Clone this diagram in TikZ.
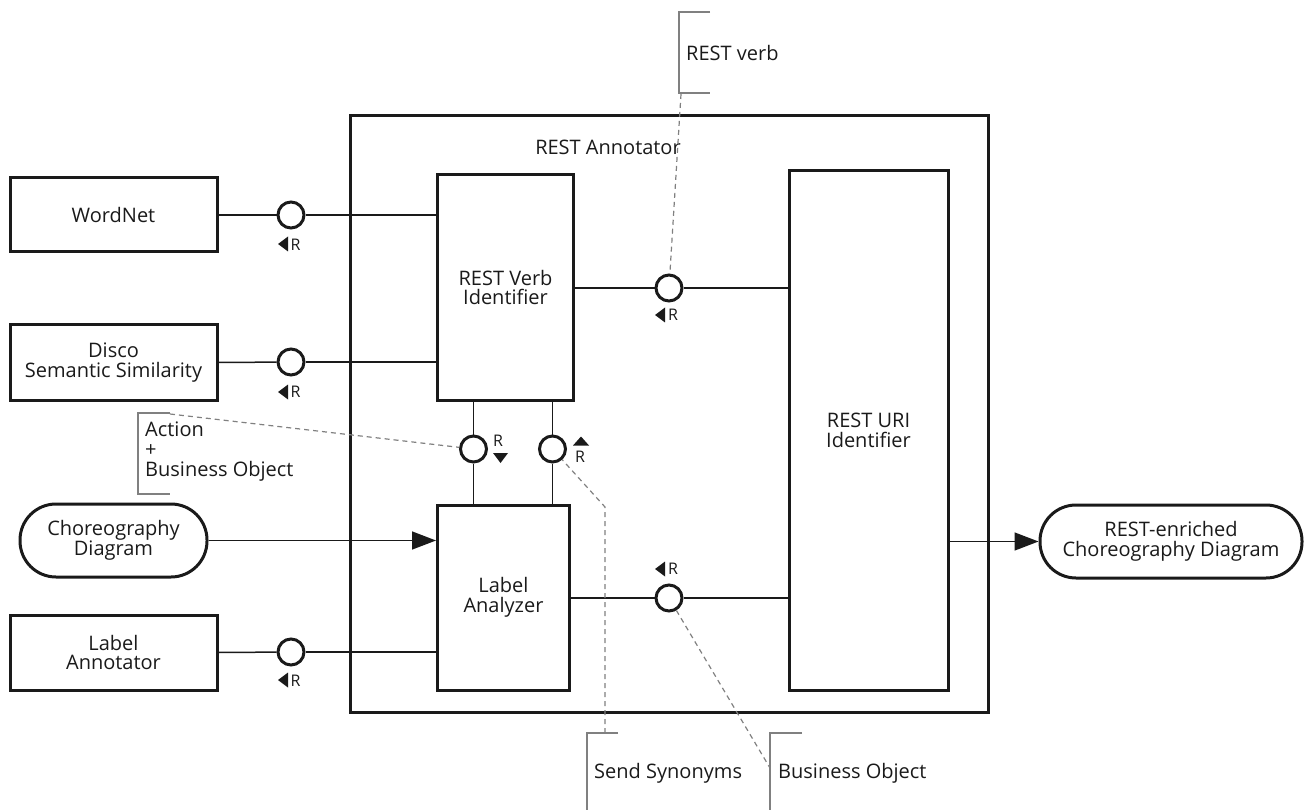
\documentclass[tikz,border=0pt]{standalone}
\usepackage{fontspec}
\setmainfont{Open Sans}
\usetikzlibrary{arrows.meta}
\definecolor{ink}{HTML}{1A1A1A}
\definecolor{notegray}{HTML}{808080}
\begin{document}
\begin{tikzpicture}[x=1pt,y=-1pt,
  every node/.style={text=ink},
  box/.style={draw=ink, line width=3pt, align=center, inner sep=0pt,
    font=\fontsize{20}{19.5}\selectfont},
  term/.style={box, rounded corners=36pt},
  iface/.style={circle, draw=ink, line width=3pt, minimum size=26pt, inner sep=0pt, fill=white},
  conn/.style={draw=ink, line width=1.5pt},
  flow/.style={conn, -{Triangle[length=24pt,width=18pt]}},
  bracket/.style={draw=notegray, line width=1.3pt},
  dashline/.style={draw=notegray, line width=1.2pt, dash pattern=on 5pt off 4pt},
  lbl/.style={font=\fontsize{20}{20}\selectfont, inner sep=0pt, align=left},
  rlbl/.style={font=\fontsize{16}{16}\selectfont, inner sep=0pt},
  tri/.style={fill=ink}
]
\useasboundingbox (0,0) rectangle (1312,810);

% outer component
\node[box, minimum width=638pt, minimum height=596pt] (outer) at (669,414) {};
\node[lbl] (outerlbl) at (608,147) {REST Annotator};

% boxes
\node[box, minimum width=207pt, minimum height=74pt] (wordnet) at (113.5,215) {WordNet};
\node[box, minimum width=207pt, minimum height=75pt] (disco) at (113.5,362.5) {Disco\\Semantic Similarity};
\node[box, minimum width=207pt, minimum height=75pt] (labann) at (113.5,652.5) {Label\\Annotator};
\node[term, minimum width=187pt, minimum height=73pt] (choreo) at (113.5,540.5) {Choreography\\Diagram};
\node[box, minimum width=136pt, minimum height=225pt] (verb) at (505.5,287.5) {REST Verb\\Identifier};
\node[box, minimum width=132pt, minimum height=185pt] (analyzer) at (503.5,597.5) {Label\\Analyzer};
\node[box, minimum width=159pt, minimum height=519pt] (uri) at (868.5,430.5) {REST URI\\Identifier};
\node[term, minimum width=262pt, minimum height=73pt] (enriched) at (1171,541.5) {REST-enriched\\Choreography Diagram};

% interfaces
\node[iface] (c1) at (291,215) {};
\node[iface] (c2) at (291,362) {};
\node[iface] (c3) at (291,652) {};
\node[iface] (c4) at (669,288) {};
\node[iface] (c5) at (669,598) {};
\node[iface] (c6) at (473.5,449) {};
\node[iface] (c7) at (552.5,449) {};

% connectors
\draw[conn] (wordnet.east) -- (c1);
\draw[conn] (c1) -- (verb.west |- c1);
\draw[conn] (disco.east) -- (c2);
\draw[conn] (c2) -- (verb.west |- c2);
\draw[conn] (labann.east) -- (c3);
\draw[conn] (c3) -- (analyzer.west |- c3);
\draw[conn] (verb.east |- c4) -- (c4);
\draw[conn] (c4) -- (uri.west |- c4);
\draw[conn] (analyzer.east |- c5) -- (c5);
\draw[conn] (c5) -- (uri.west |- c5);
\draw[conn] (verb.south -| c6) -- (c6);
\draw[conn] (c6) -- (analyzer.north -| c6);
\draw[conn] (verb.south -| c7) -- (c7);
\draw[conn] (c7) -- (analyzer.north -| c7);
\draw[flow] (choreo.east) -- (analyzer.west |- choreo.east);
\draw[flow] (uri.east |- enriched.west) -- (enriched.west);

% R markers
\fill[tri] (278,244) -- (288,236.5) -- (288,251.5) -- cycle;
\node[rlbl] (r1) at (295.5,245) {R};
\fill[tri] (278,392) -- (288,384.5) -- (288,399.5) -- cycle;
\node[rlbl] (r2) at (295.5,392) {R};
\fill[tri] (278,680) -- (288,672.5) -- (288,687.5) -- cycle;
\node[rlbl] (r3) at (295.5,681) {R};
\fill[tri] (655,315) -- (665,307.5) -- (665,322.5) -- cycle;
\node[rlbl] (r4) at (673,315) {R};
\fill[tri] (655,569) -- (665,561.5) -- (665,576.5) -- cycle;
\node[rlbl] (r5) at (673,569) {R};
\node[rlbl] (r6) at (498,441) {R};
\fill[tri] (493,453) -- (508,453) -- (500.5,463) -- cycle;
\fill[tri] (573,445.5) -- (589,445.5) -- (581,436.5) -- cycle;
\node[rlbl] (r7) at (580,457) {R};

% notes
\node[lbl, anchor=west] (nverb) at (686,53) {REST verb};
\draw[bracket] (710,12) -- (679,12) -- (679,93) -- (710,93);
\coordinate (nverbpt) at (681,94);
\draw[dashline] (nverbpt) -- (c4);

\node[lbl, anchor=west] (naction) at (145,452) {Action\\+\\Business Object};
\draw[bracket] (170,413) -- (138,413) -- (138,494) -- (170,494);
\coordinate (nactionpt) at (170,414);
\draw[dashline] (nactionpt) -- (c6);

\node[lbl, anchor=west] (nsyn) at (594,773) {Send Synonyms};
\draw[bracket] (618,733) -- (587,733) -- (587,810);
\coordinate (nsynpt) at (605,733);
\coordinate (nsynbend) at (605,507);
\draw[dashline] (nsynpt) -- (nsynbend) -- (c7);

\node[lbl, anchor=west] (nbo) at (778,773) {Business Object};
\draw[bracket] (802,733) -- (770,733) -- (770,810);
\coordinate (nbopt) at (770,768);
\draw[dashline] (c5) -- (nbopt);
\end{tikzpicture}
\end{document}
